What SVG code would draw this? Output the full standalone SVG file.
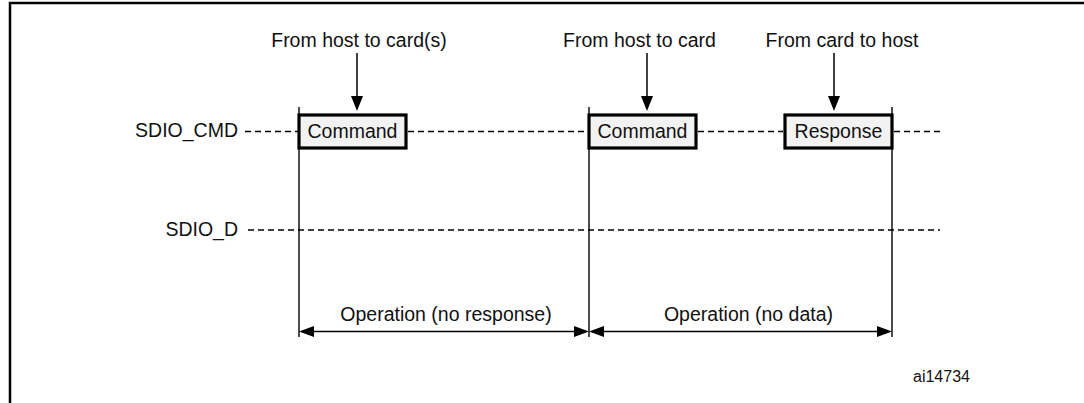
<svg xmlns="http://www.w3.org/2000/svg" width="1084" height="403" viewBox="0 0 1084 403">
<defs>
<style>
text{font-family:"Liberation Sans",Arial,sans-serif;font-size:19.5px;fill:#111}
.c{text-anchor:middle}
.dash{stroke:#000;stroke-width:1.4;stroke-dasharray:6 4;fill:none}
.v{stroke:#000;stroke-width:1.4}
.box{fill:#f2f2f2;stroke:#000;stroke-width:3.2}
.ar{stroke:#000;stroke-width:1.5}
.head{fill:#000}
</style>
</defs>
<rect x="10" y="3" width="1100" height="420" fill="none" stroke="#000" stroke-width="2.5"/>
<g id="signals">
<text x="238" y="137" text-anchor="end">SDIO_CMD</text>
<text x="238" y="236" text-anchor="end">SDIO_D</text>
</g>
<g id="connectors">
<line class="dash" x1="245" y1="131.5" x2="298" y2="131.5"/>
<line class="dash" x1="408" y1="131.5" x2="587" y2="131.5"/>
<line class="dash" x1="698" y1="131.5" x2="783" y2="131.5"/>
<line class="dash" x1="894" y1="131.5" x2="940" y2="131.5"/>
<line class="dash" x1="248" y1="230" x2="940" y2="230"/>
<line class="v" x1="299" y1="107" x2="299" y2="337"/>
<line class="v" x1="589" y1="107" x2="589" y2="337"/>
<line class="v" x1="892" y1="107" x2="892" y2="337"/>
<line class="ar" x1="357" y1="53" x2="357" y2="98"/>
<polygon class="head" points="351,96 363,96 357,111"/>
<line class="ar" x1="647" y1="53" x2="647" y2="98"/>
<polygon class="head" points="641,96 653,96 647,111"/>
<line class="ar" x1="834" y1="53" x2="834" y2="98"/>
<polygon class="head" points="828,96 840,96 834,111"/>
<line class="ar" x1="310" y1="331.5" x2="578" y2="331.5"/>
<polygon class="head" points="299,331.5 314,326 314,337"/>
<polygon class="head" points="589,331.5 574,326 574,337"/>
<line class="ar" x1="600" y1="331.5" x2="881" y2="331.5"/>
<polygon class="head" points="589,331.5 604,326 604,337"/>
<polygon class="head" points="892,331.5 877,326 877,337"/>
</g>
<g id="cmd1">
<rect class="box" x="299" y="115" width="107" height="33"/>
<text class="c" x="352.5" y="138">Command</text>
</g>
<g id="cmd2">
<rect class="box" x="589" y="115" width="107" height="33"/>
<text class="c" x="642.5" y="138">Command</text>
</g>
<g id="resp">
<rect class="box" x="785" y="115" width="107" height="33"/>
<text class="c" x="838.5" y="138">Response</text>
</g>
<g id="labels">
<text class="c" x="359" y="47">From host to card(s)</text>
<text class="c" x="639.5" y="47">From host to card</text>
<text class="c" x="842" y="47">From card to host</text>
<text class="c" x="446" y="321">Operation (no response)</text>
<text class="c" x="748.5" y="321">Operation (no data)</text>
<text x="913" y="382" style="font-size:16px">ai14734</text>
</g>
</svg>
